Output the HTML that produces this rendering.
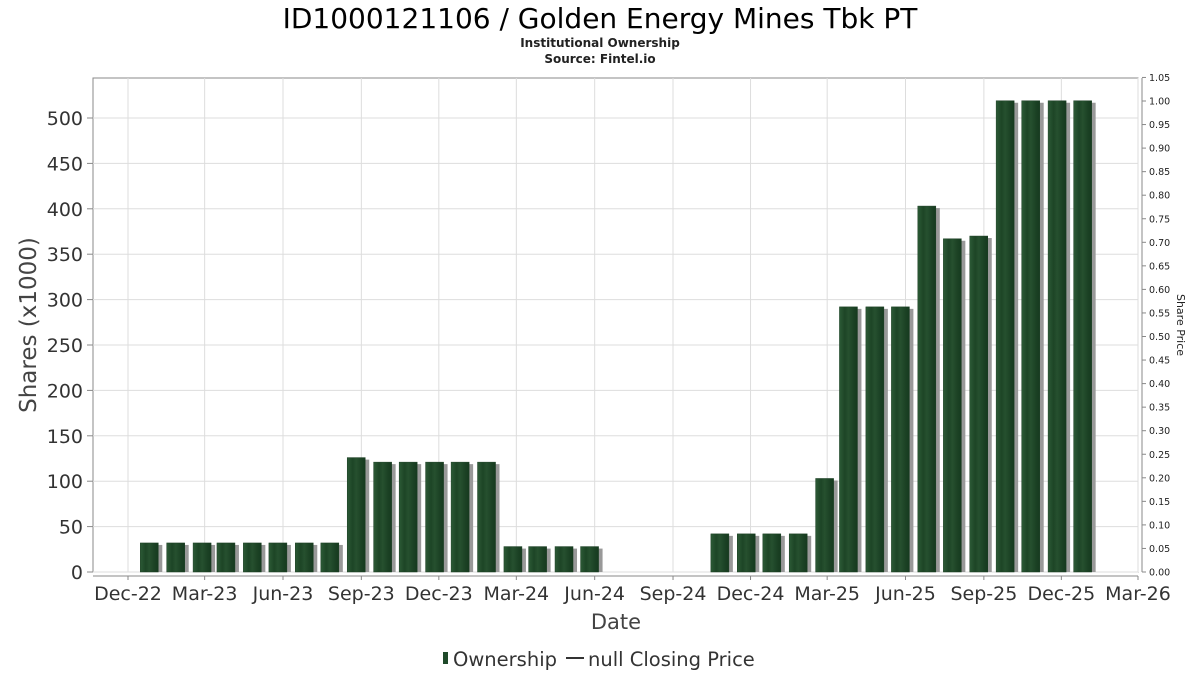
<!DOCTYPE html>
<html><head><meta charset="utf-8"><style>
body{margin:0;background:#fff;}
svg{display:block;font-family:"DejaVu Sans","Liberation Sans",sans-serif;}
</style></head><body>
<svg id="chart" width="1200" height="675" xmlns="http://www.w3.org/2000/svg">
<text x="600" y="28" text-anchor="middle" font-size="28" fill="#000">ID1000121106 / Golden Energy Mines Tbk PT</text>
<text x="600" y="47" text-anchor="middle" font-size="12" font-weight="bold" fill="#222">Institutional Ownership</text>
<text x="600" y="63" text-anchor="middle" font-size="12" font-weight="bold" fill="#222">Source: Fintel.io</text>
<rect x="93" y="78" width="1045" height="494" fill="#fff" stroke="#888"/>
<g id="grid"></g>
<g id="bars"></g>
<g id="axes"></g>
<text transform="translate(36,325) rotate(-90)" text-anchor="middle" font-size="23" fill="#444">Shares (x1000)</text>
<text transform="translate(1177,325) rotate(90)" text-anchor="middle" font-size="11" fill="#222">Share Price</text>
<text x="616" y="629" text-anchor="middle" font-size="21" fill="#444">Date</text>
<g>
<rect x="443" y="652" width="5" height="12" fill="#1f4a2a"/>
<text x="453" y="666" font-size="19.5" fill="#333">Ownership</text>
<line x1="566" y1="658" x2="584" y2="658" stroke="#333" stroke-width="2"/>
<text x="588" y="666" font-size="19.5" fill="#333">null Closing Price</text>
</g>
</svg>
<script>
const barDates = ["2022-12-26","2023-01-26","2023-02-26","2023-03-26","2023-04-26","2023-05-26","2023-06-26","2023-07-26","2023-08-26","2023-09-26","2023-10-26","2023-11-26","2023-12-26","2024-01-26","2024-02-26","2024-03-26","2024-04-26","2024-05-26","2024-10-26","2024-11-26","2024-12-26","2025-01-26","2025-02-26","2025-03-26","2025-04-26","2025-05-26","2025-06-26","2025-07-26","2025-08-26","2025-09-26","2025-10-26","2025-11-26","2025-12-26"];
const shares = [32,32,32,32,32,32,32,32,126,121,121,121,121,121,28,28,28,28,42,42,42,42,103,292,292,292,403,367,370,519,519,519,519];
const leftTicks = [0,50,100,150,200,250,300,350,400,450,500];
const rightTicks = [0,0.05,0.1,0.15,0.2,0.25,0.3,0.35,0.4,0.45,0.5,0.55,0.6,0.65,0.7,0.75,0.8,0.85,0.9,0.95,1.0,1.05];
const xTickLabels = ["Dec-22","Mar-23","Jun-23","Sep-23","Dec-23","Mar-24","Jun-24","Sep-24","Dec-24","Mar-25","Jun-25","Sep-25","Dec-25","Mar-26"];
const xTickDates = ["2022-12-01","2023-03-01","2023-06-01","2023-09-01","2023-12-01","2024-03-01","2024-06-01","2024-09-01","2024-12-01","2025-03-01","2025-06-01","2025-09-01","2025-12-01","2026-03-01"];

const NS="http://www.w3.org/2000/svg";
const X0=93,X1=1138,Y0=572,YT=78;
const d0=Date.parse("2022-12-01"), d1=Date.parse("2026-03-01");
const xScale=d=>128+(Date.parse(d)-d0)/(d1-d0)*(1138-128);
const yL=v=>Y0-v*(572-118)/500;
const yR=v=>Y0-v*(572-101)/1.0;
function mk(tag,attrs,parent,text){const e=document.createElementNS(NS,tag);for(const k in attrs)e.setAttribute(k,attrs[k]);if(text!==undefined)e.textContent=text;parent.appendChild(e);return e;}
const grid=document.getElementById('grid'),axes=document.getElementById('axes'),bars=document.getElementById('bars');
const defs=mk('defs',{},document.getElementById('chart'));
const g=mk('linearGradient',{id:'bg',x1:0,x2:1,y1:0,y2:0},defs);
mk('stop',{offset:'0','stop-color':'#2c5a36'},g);mk('stop',{offset:'0.3','stop-color':'#1d4526'},g);mk('stop',{offset:'0.5','stop-color':'#26502f'},g);mk('stop',{offset:'0.8','stop-color':'#1b4124'},g);mk('stop',{offset:'1','stop-color':'#163a1f'},g);
leftTicks.forEach(v=>{
  const y=yL(v);
  const l=mk('line',{x1:X0,x2:X1,y1:y,y2:y,stroke:'#ddd'},grid);
  
  
  const t=mk('text',{x:83,y:y+7,'text-anchor':'end','font-size':19,fill:'#333'},axes,String(v));
  
  
  mk('line',{x1:87,x2:93,y1:y,y2:y,stroke:'#888'},axes);
});
xTickDates.forEach((d,i)=>{
  const x=xScale(d);
  const l=mk('line',{x1:x,x2:x,y1:YT,y2:Y0,stroke:'#ddd'},grid);
  
  
  mk('line',{x1:x,x2:x,y1:576,y2:580,stroke:'#888'},axes);
  const t=mk('text',{x:x,y:600,'text-anchor':'middle','font-size':19,fill:'#333'},axes,xTickLabels[i]);
  
  
});
mk('line',{x1:93,x2:1138,y1:576,y2:576,stroke:'#888'},axes);
mk('line',{x1:1142,x2:1142,y1:YT,y2:Y0,stroke:'#888'},axes);
rightTicks.forEach(v=>{
  const y=yR(v);
  mk('line',{x1:1142,x2:1146,y1:y,y2:y,stroke:'#888'},axes);
  const t=mk('text',{x:1149,y:y+3.5,'font-size':9.5,fill:'#222'},axes,v.toFixed(2));
  
  
});
barDates.forEach((d,i)=>{
  const x=xScale(d)-9,y=yL(shares[i]),h=Y0-y;
  const s=mk('rect',{x:x+4,y:y+2,width:18,height:h-2,fill:'#999'},bars);
  
  
  const b=mk('rect',{x:x,y:y,width:18,height:h,fill:'url(#bg)',stroke:'#1a3d22','stroke-width':0.5},bars);
  
  
});
</script>
</body></html>
